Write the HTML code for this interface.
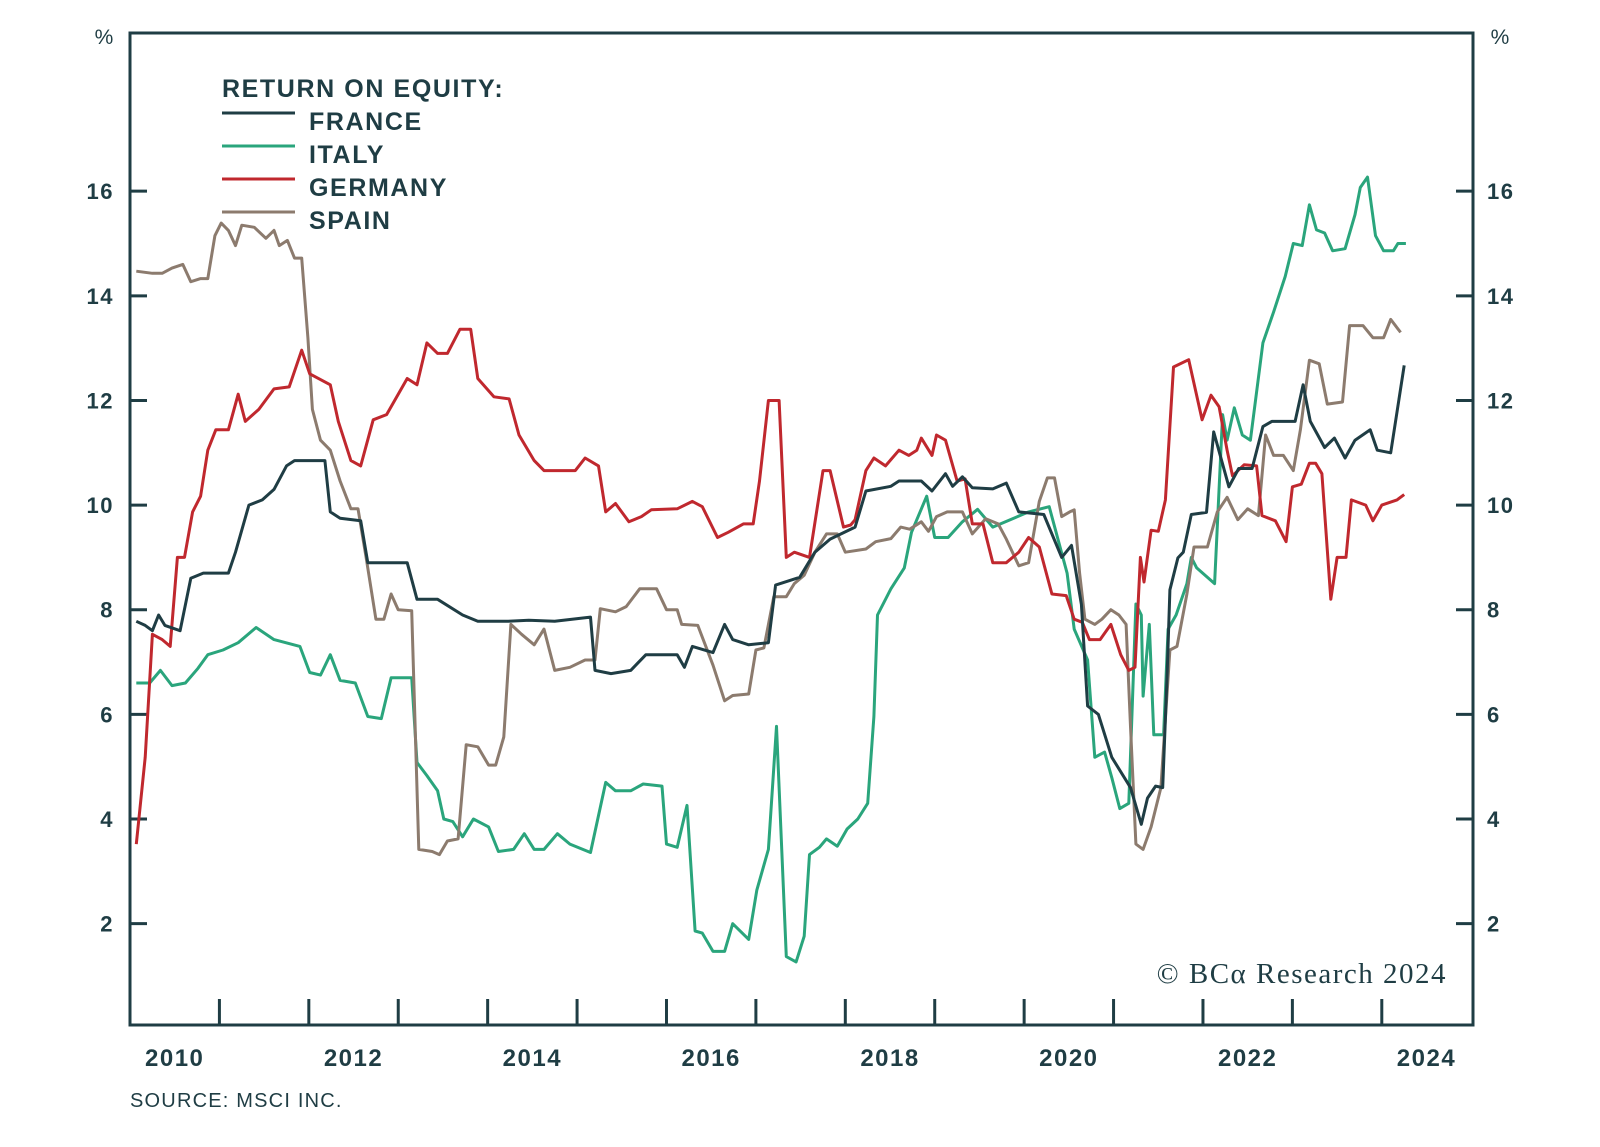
<!DOCTYPE html>
<html><head><meta charset="utf-8"><title>Return on Equity</title>
<style>
html,body{margin:0;padding:0;background:#fff;}
body{width:1600px;height:1142px;overflow:hidden;font-family:"Liberation Sans",sans-serif;}
svg text{font-family:"Liberation Sans",sans-serif;fill:#1f3d44;}
</style></head>
<body>
<svg id="chart" width="1600" height="1142" viewBox="0 0 1600 1142" xmlns="http://www.w3.org/2000/svg">
  <g id="axes"></g>
  <g id="series"></g>
  <g style="letter-spacing:1.6px">
    <text x="222" y="97" font-size="25" font-weight="bold">RETURN ON EQUITY:</text>
    <line x1="222" y1="113" x2="295" y2="113" stroke="#1f3d44" stroke-width="3"/>
    <text x="309" y="130" font-size="25" font-weight="bold">FRANCE</text>
    <line x1="222" y1="146" x2="295" y2="146" stroke="#2aa57c" stroke-width="3"/>
    <text x="309" y="163" font-size="25" font-weight="bold">ITALY</text>
    <line x1="222" y1="179" x2="295" y2="179" stroke="#c0282e" stroke-width="3"/>
    <text x="309" y="196" font-size="25" font-weight="bold">GERMANY</text>
    <line x1="222" y1="212" x2="295" y2="212" stroke="#8c7b6e" stroke-width="3"/>
    <text x="309" y="229" font-size="25" font-weight="bold">SPAIN</text>
  </g>
  <text x="1447" y="983" text-anchor="end" font-size="29" style="font-family:'Liberation Serif',serif;letter-spacing:1.5px">© BCα Research 2024</text>
  <text x="104" y="44" text-anchor="middle" font-size="21">%</text>
  <text x="1500" y="44" text-anchor="middle" font-size="21">%</text>
  <text x="130" y="1107" font-size="20" style="letter-spacing:1.2px">SOURCE: MSCI INC.</text>
</svg>
<script>
const BASE_YEAR = 2010;
const yTicks = [2,4,6,8,10,12,14,16];
const yearLabels = [2010,2012,2014,2016,2018,2020,2022,2024];
const yearTicks = [2011,2012,2013,2014,2015,2016,2017,2018,2019,2020,2021,2022,2023,2024];

const franceT = [.07,.17,.25,.32,.39,.56,.68,.82,1.10,1.18,1.33,1.48,1.61,1.75,1.84,2.18,2.24,2.35,2.58,2.66,3.10,3.21,3.44,3.72,3.89,4.23,4.46,4.75,5.15,5.20,5.38,5.60,5.77,6.12,6.20,6.29,6.52,6.65,6.74,6.92,7.14,7.22,7.49,7.66,7.83,8.11,8.23,8.51,8.60,8.85,8.97,9.12,9.20,9.31,9.42,9.65,9.80,9.94,10.22,10.42,10.53,10.64,10.71,10.83,10.98,11.19,11.31,11.38,11.47,11.55,11.60,11.63,11.72,11.78,11.87,12.04,12.12,12.29,12.40,12.55,12.67,12.77,13.03,13.12,13.20,13.36,13.47,13.59,13.70,13.87,13.95,14.10,14.25];
const franceV = [7.78,7.7,7.6,7.9,7.7,7.6,8.6,8.7,8.7,9.1,10.0,10.1,10.3,10.75,10.85,10.85,9.87,9.75,9.7,8.9,8.9,8.2,8.2,7.9,7.78,7.78,7.8,7.78,7.86,6.84,6.78,6.84,7.14,7.14,6.9,7.3,7.18,7.72,7.43,7.33,7.37,8.47,8.62,9.1,9.35,9.58,10.27,10.36,10.46,10.46,10.27,10.6,10.36,10.54,10.33,10.31,10.42,9.87,9.82,9.0,9.23,8.1,6.16,6.0,5.18,4.6,3.9,4.4,4.63,4.6,6.8,8.38,8.99,9.1,9.82,9.86,11.4,10.35,10.7,10.7,11.5,11.6,11.6,12.3,11.6,11.1,11.28,10.9,11.24,11.44,11.05,11.0,12.67];

const italyT = [.07,.22,.34,.47,.62,.76,.87,1.04,1.21,1.41,1.61,1.90,2.01,2.13,2.24,2.35,2.52,2.66,2.81,2.92,3.15,3.21,3.32,3.44,3.51,3.61,3.72,3.84,4.01,4.12,4.29,4.41,4.52,4.63,4.78,4.92,5.15,5.32,5.43,5.60,5.74,5.95,6.00,6.12,6.23,6.32,6.40,6.52,6.65,6.74,6.92,7.01,7.14,7.23,7.34,7.45,7.54,7.60,7.71,7.79,7.91,8.02,8.14,8.25,8.32,8.36,8.51,8.66,8.74,8.91,9.00,9.15,9.31,9.48,9.65,10.05,10.28,10.48,10.56,10.71,10.79,10.90,10.98,11.07,11.17,11.25,11.31,11.33,11.40,11.45,11.56,11.61,11.70,11.82,11.87,11.93,12.13,12.22,12.27,12.35,12.44,12.53,12.67,12.79,12.92,13.01,13.11,13.19,13.27,13.36,13.45,13.59,13.70,13.76,13.84,13.93,14.02,14.13,14.18,14.27];
const italyV = [6.6,6.6,6.84,6.55,6.6,6.88,7.14,7.23,7.37,7.66,7.43,7.3,6.8,6.75,7.14,6.65,6.6,5.96,5.92,6.7,6.7,5.08,4.83,4.54,4.0,3.95,3.66,4.0,3.85,3.38,3.42,3.72,3.42,3.42,3.72,3.52,3.36,4.7,4.54,4.54,4.67,4.63,3.52,3.46,4.26,1.86,1.82,1.47,1.47,2.0,1.7,2.64,3.42,5.77,1.37,1.27,1.76,3.32,3.46,3.62,3.48,3.81,4.0,4.3,5.96,7.9,8.4,8.8,9.48,10.17,9.38,9.38,9.68,9.92,9.58,9.87,9.97,8.7,7.63,7.04,5.18,5.28,4.79,4.2,4.3,8.11,7.9,6.35,7.72,5.61,5.61,7.63,7.9,8.5,9.0,8.8,8.5,11.73,11.24,11.86,11.34,11.24,13.1,13.69,14.37,15.0,14.96,15.74,15.26,15.2,14.86,14.9,15.55,16.07,16.27,15.15,14.86,14.86,15.0,15.0];

const germanyT = [.07,.17,.25,.36,.45,.53,.61,.70,.79,.87,.96,1.10,1.21,1.29,1.44,1.61,1.78,1.92,2.01,2.24,2.33,2.47,2.58,2.72,2.87,3.10,3.21,3.32,3.44,3.55,3.69,3.81,3.89,4.07,4.24,4.35,4.52,4.63,4.86,4.98,5.09,5.24,5.32,5.43,5.58,5.72,5.83,6.12,6.29,6.40,6.57,6.69,6.86,6.97,7.04,7.14,7.26,7.34,7.43,7.60,7.75,7.83,7.98,8.06,8.11,8.23,8.32,8.45,8.60,8.71,8.80,8.85,8.97,9.02,9.12,9.25,9.34,9.42,9.54,9.65,9.80,9.94,10.05,10.17,10.31,10.47,10.56,10.65,10.73,10.85,10.97,11.08,11.17,11.24,11.30,11.34,11.42,11.50,11.58,11.67,11.84,11.99,12.09,12.18,12.27,12.33,12.46,12.60,12.66,12.81,12.93,13.00,13.10,13.19,13.26,13.33,13.43,13.50,13.60,13.66,13.82,13.90,14.00,14.17,14.25];
const germanyV = [3.52,5.18,7.53,7.43,7.3,9.0,9.0,9.87,10.17,11.05,11.44,11.44,12.12,11.6,11.83,12.22,12.26,12.96,12.51,12.3,11.6,10.85,10.75,11.63,11.73,12.42,12.3,13.1,12.9,12.9,13.36,13.36,12.42,12.07,12.03,11.34,10.85,10.66,10.66,10.66,10.9,10.75,9.87,10.03,9.68,9.78,9.91,9.93,10.07,9.97,9.38,9.48,9.64,9.64,10.46,12.0,12.0,9.0,9.1,9.0,10.66,10.66,9.58,9.62,9.72,10.66,10.9,10.75,11.05,10.95,11.05,11.28,10.95,11.34,11.24,10.46,10.5,9.64,9.64,8.9,8.9,9.1,9.38,9.2,8.3,8.27,7.82,7.76,7.43,7.43,7.72,7.14,6.84,6.9,9.0,8.53,9.52,9.5,10.1,12.64,12.78,11.63,12.1,11.88,11.05,10.56,10.77,10.75,9.8,9.7,9.3,10.35,10.4,10.8,10.8,10.6,8.2,9.0,9.0,10.1,10.0,9.7,10.0,10.1,10.2];

const spainT = [.07,.25,.36,.47,.59,.68,.79,.87,.95,1.02,1.10,1.18,1.25,1.39,1.52,1.61,1.67,1.76,1.84,1.92,1.99,2.04,2.13,2.24,2.35,2.47,2.55,2.64,2.75,2.84,2.92,3.00,3.15,3.23,3.38,3.46,3.55,3.67,3.76,3.89,4.01,4.09,4.18,4.26,4.38,4.52,4.63,4.75,4.92,5.09,5.20,5.26,5.43,5.55,5.70,5.89,6.00,6.12,6.17,6.35,6.52,6.65,6.74,6.92,7.00,7.09,7.20,7.34,7.43,7.54,7.66,7.79,7.91,8.00,8.23,8.34,8.51,8.62,8.72,8.85,8.93,9.02,9.14,9.31,9.42,9.57,9.71,9.80,9.94,10.05,10.17,10.26,10.34,10.42,10.51,10.56,10.62,10.68,10.79,10.87,10.97,11.06,11.14,11.19,11.25,11.33,11.42,11.53,11.63,11.71,11.82,11.90,12.05,12.16,12.27,12.39,12.50,12.62,12.70,12.79,12.90,13.01,13.09,13.19,13.30,13.39,13.56,13.64,13.79,13.90,14.02,14.10,14.21];
const spainV = [14.47,14.43,14.43,14.53,14.6,14.27,14.33,14.33,15.15,15.39,15.25,14.96,15.35,15.31,15.1,15.25,14.96,15.06,14.72,14.72,13.2,11.83,11.24,11.05,10.46,9.93,9.93,9.0,7.82,7.82,8.3,8.0,7.98,3.42,3.38,3.32,3.58,3.62,5.42,5.38,5.03,5.03,5.57,7.72,7.53,7.33,7.63,6.84,6.9,7.04,7.04,8.02,7.96,8.06,8.4,8.4,8.0,8.0,7.72,7.7,6.94,6.26,6.36,6.39,7.23,7.27,8.25,8.25,8.5,8.66,9.1,9.45,9.45,9.1,9.16,9.3,9.36,9.58,9.54,9.68,9.5,9.78,9.87,9.87,9.45,9.74,9.64,9.35,8.84,8.9,10.07,10.52,10.52,9.78,9.87,9.91,8.7,7.82,7.72,7.82,8.0,7.9,7.72,5.77,3.52,3.42,3.85,4.6,7.23,7.3,8.3,9.2,9.2,9.87,10.15,9.72,9.93,9.8,11.34,10.95,10.95,10.66,11.44,12.77,12.7,11.93,11.97,13.43,13.43,13.2,13.2,13.55,13.3];

const PL=130, PR=1473, PT=33, PB=1025;
const X0=2010, X1=2025.02;
const Y_ZERO_PX=1028.3, PX_PER_UNIT=52.32;
function xs(year){ return PL + (year - X0)/(X1 - X0)*(PR-PL); }
function ys(v){ return Y_ZERO_PX - v*PX_PER_UNIT; }
const NS='http://www.w3.org/2000/svg';
function mk(tag, attrs){ const e=document.createElementNS(NS,tag); for(const k in attrs) e.setAttribute(k,attrs[k]); return e; }

const axes=document.getElementById('axes');
const frame=mk('rect',{x:PL,y:PT,width:PR-PL,height:PB-PT,fill:'none',stroke:'#1f3d44','stroke-width':3});


axes.appendChild(frame);

yTicks.forEach(v=>{
  const y=ys(v);
  const tl=mk('line',{x1:PL,y1:y,x2:PL+17,y2:y,stroke:'#1f3d44','stroke-width':3});
  
  
  axes.appendChild(tl);
  const tr=mk('line',{x1:PR-17,y1:y,x2:PR,y2:y,stroke:'#1f3d44','stroke-width':3});
  
  
  axes.appendChild(tr);
  const lt=mk('text',{x:114,y:y+8,'text-anchor':'end','font-size':22,'font-weight':'bold','letter-spacing':1.5});
  lt.textContent=v;
  
  
  axes.appendChild(lt);
  const rt=mk('text',{x:1487,y:y+8,'text-anchor':'start','font-size':22,'font-weight':'bold','letter-spacing':1.5});
  rt.textContent=v;
  
  
  axes.appendChild(rt);
});
yearTicks.forEach(yr=>{
  const x=xs(yr);
  const t=mk('line',{x1:x,y1:PB,x2:x,y2:PB-26,stroke:'#1f3d44','stroke-width':3});
  
  
  axes.appendChild(t);
});
yearLabels.forEach(yr=>{
  const t=mk('text',{x:xs(yr+0.5),y:1066,'text-anchor':'middle','font-size':24,'font-weight':'bold','letter-spacing':1.5});
  t.textContent=yr;
  
  
  axes.appendChild(t);
});

const sg=document.getElementById('series');
function drawLine(T,V,color,name){
  const d=T.map((t,i)=>(i?'L':'M')+xs(BASE_YEAR+t).toFixed(1)+' '+ys(V[i]).toFixed(1)).join(' ');
  const p=mk('path',{d:d,fill:'none',stroke:color,'stroke-width':3,'stroke-linejoin':'round'});
  
  
  sg.appendChild(p);
}
drawLine(italyT,italyV,'#2aa57c','italy-line');
drawLine(spainT,spainV,'#8c7b6e','spain-line');
drawLine(germanyT,germanyV,'#c0282e','germany-line');
drawLine(franceT,franceV,'#1f3d44','france-line');
</script>
</body></html>
